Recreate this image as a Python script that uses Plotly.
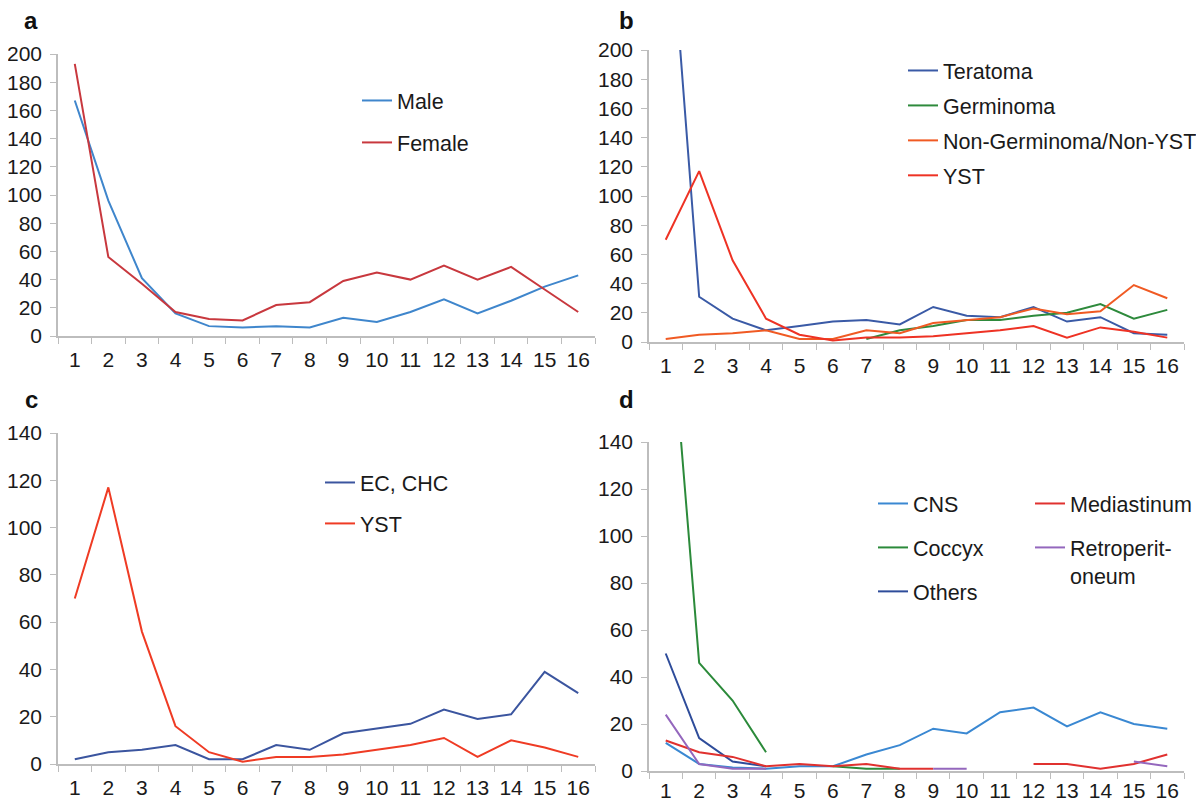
import plotly.graph_objects as go

cats = [str(i) for i in range(1, 17)]

# Panel a
male = [167, 96, 41, 16, 7, 6, 7, 6, 13, 10, 17, 26, 16, 25, 35, 43]
female = [193, 56, 37, 17, 12, 11, 22, 24, 39, 45, 40, 50, 40, 49, 33, 17]

# Panel b
teratoma = [330, 31, 16, 8, 11, 14, 15, 12, 24, 18, 17, 24, 14, 17, 6, 5]
germinoma = [None, None, None, None, None, None, 2, 8, 11, 15, 15, 18, 20, 26, 16, 22]
non_germ = [2, 5, 6, 8, 2, 2, 8, 6, 13, 15, 17, 23, 19, 21, 39, 30]
yst_b = [70, 117, 56, 16, 5, 1, 3, 3, 4, 6, 8, 11, 3, 10, 7, 3]

# Panel c
ec_chc = [2, 5, 6, 8, 2, 2, 8, 6, 13, 15, 17, 23, 19, 21, 39, 30]
yst_c = [70, 117, 56, 16, 5, 1, 3, 3, 4, 6, 8, 11, 3, 10, 7, 3]

# Panel d
cns = [12, 3, 1.5, 1, 2, 2, 7, 11, 18, 16, 25, 27, 19, 25, 20, 18]
coccyx = [220, 46, 30, 8, None, 2, 1, 1, None, None, None, None, None, None, None, None]
others = [50, 14, 4, 2, None, None, None, None, None, None, None, None, None, None, None, None]
mediastinum = [13, 8, 6, 2, 3, 2, 3, 1, 1, None, None, 3, 3, 1, 3, 7]
retro = [24, 3, 1, 1, None, None, None, None, 1, 1, None, None, None, None, 4, 2]

FONT = "Liberation Sans, Arial, Helvetica, sans-serif"
PAGE_W, PAGE_H = 1204, 810
OFF = 8  # default body margin of the html page
W, H = PAGE_W - 2 * OFF, PAGE_H - 2 * OFF

fig = go.Figure()

def add(y, name, color, xa, ya, legend):
    fig.add_trace(go.Scatter(
        x=cats, y=y, name=name, mode="lines",
        line=dict(color=color, width=2),
        xaxis=xa, yaxis=ya, legend=legend, legendgroup=name,
        hoverinfo="skip",
    ))

add(male, "Male", "#3f86cc", "x", "y", "legend")
add(female, "Female", "#c8383e", "x", "y", "legend")

add(teratoma, "Teratoma", "#3a5aa6", "x2", "y2", "legend2")
add(germinoma, "Germinoma", "#2e8a3c", "x2", "y2", "legend2")
add(non_germ, "Non-Germinoma/Non-YST", "#f05a23", "x2", "y2", "legend2")
add(yst_b, "YST", "#ee3224", "x2", "y2", "legend2")

add(ec_chc, "EC, CHC", "#3b559f", "x3", "y3", "legend3")
add(yst_c, "YST", "#ef3b24", "x3", "y3", "legend3")

add(cns, "CNS", "#3a88d2", "x4", "y4", "legend4")
add(coccyx, "Coccyx", "#2b8a3a", "x4", "y4", "legend4")
add(others, "Others", "#2e4c9a", "x4", "y4", "legend4")
add(mediastinum, "Mediastinum", "#e0312f", "x4", "y4", "legend5")
add(retro, "Retroperit-<br>oneum", "#9467bd", "x4", "y4", "legend5")

def fx(x):
    return (x - OFF) / W

def fy(y):
    return (H - (y - OFF)) / H

def px_x(a, b):
    return [fx(a), fx(b)]

def px_y(top, bottom):
    return [fy(bottom), fy(top)]

axis_color = "#bdbdbd"
tickfont = dict(family=FONT, size=21, color="#1a1a1a")

def xaxis(domain, anchor, standoff=4):
    return dict(domain=domain, anchor=anchor, type="category",
                range=[-0.5, 15.5], automargin=False,
                tickson="boundaries", ticks="outside", ticklen=6,
                tickcolor=axis_color, showline=True, linecolor=axis_color,
                linewidth=1.5, showgrid=False, zeroline=False,
                tickfont=tickfont, ticklabelstandoff=standoff, fixedrange=True)

def yaxis(domain, anchor, top):
    return dict(domain=domain, anchor=anchor, range=[0, top], dtick=20,
                automargin=False,
                ticks="outside", ticklen=6, tickcolor=axis_color,
                showline=True, linecolor=axis_color, linewidth=1.5,
                showgrid=False, zeroline=False, tickfont=tickfont,
                ticklabelstandoff=4, fixedrange=True)

def legend(x, y, gap):
    return dict(x=fx(x), y=fy(y), xanchor="left", yanchor="top",
                font=dict(family=FONT, size=21.5, color="#1a1a1a"),
                bgcolor="rgba(0,0,0,0)", borderwidth=0,
                tracegroupgap=gap, itemwidth=30, valign="top")

fig.update_layout(
    width=W, height=H,
    margin=dict(l=0, r=0, t=0, b=0, autoexpand=False),
    paper_bgcolor="white", plot_bgcolor="white",
    showlegend=True,
    xaxis=xaxis(px_x(58, 595), "y"),
    yaxis=yaxis(px_y(54, 336), "x", 200),
    xaxis2=xaxis(px_x(649, 1184), "y2"),
    yaxis2=yaxis(px_y(50, 342), "x2", 200),
    xaxis3=xaxis(px_x(58, 595), "y3"),
    yaxis3=yaxis(px_y(433, 764), "x3", 140),
    xaxis4=xaxis(px_x(649, 1184), "y4", standoff=0),
    yaxis4=yaxis(px_y(442, 771), "x4", 140),
    legend=legend(357, 80, 11),
    legend2=legend(903, 50, 4),
    legend3=legend(320, 462, 10),
    legend4=legend(873, 483, 13),
    legend5=legend(1030, 483, 13),
)

for letter, x, y in [("a", 31, 21), ("b", 626, 21), ("c", 31, 399), ("d", 626, 399)]:
    fig.add_annotation(text="<b>%s</b>" % letter, x=fx(x), y=fy(y),
                       xref="paper", yref="paper", showarrow=False,
                       xanchor="center", yanchor="middle",
                       font=dict(family=FONT, size=24, color="#111"))

fig.write_html("out.html")
